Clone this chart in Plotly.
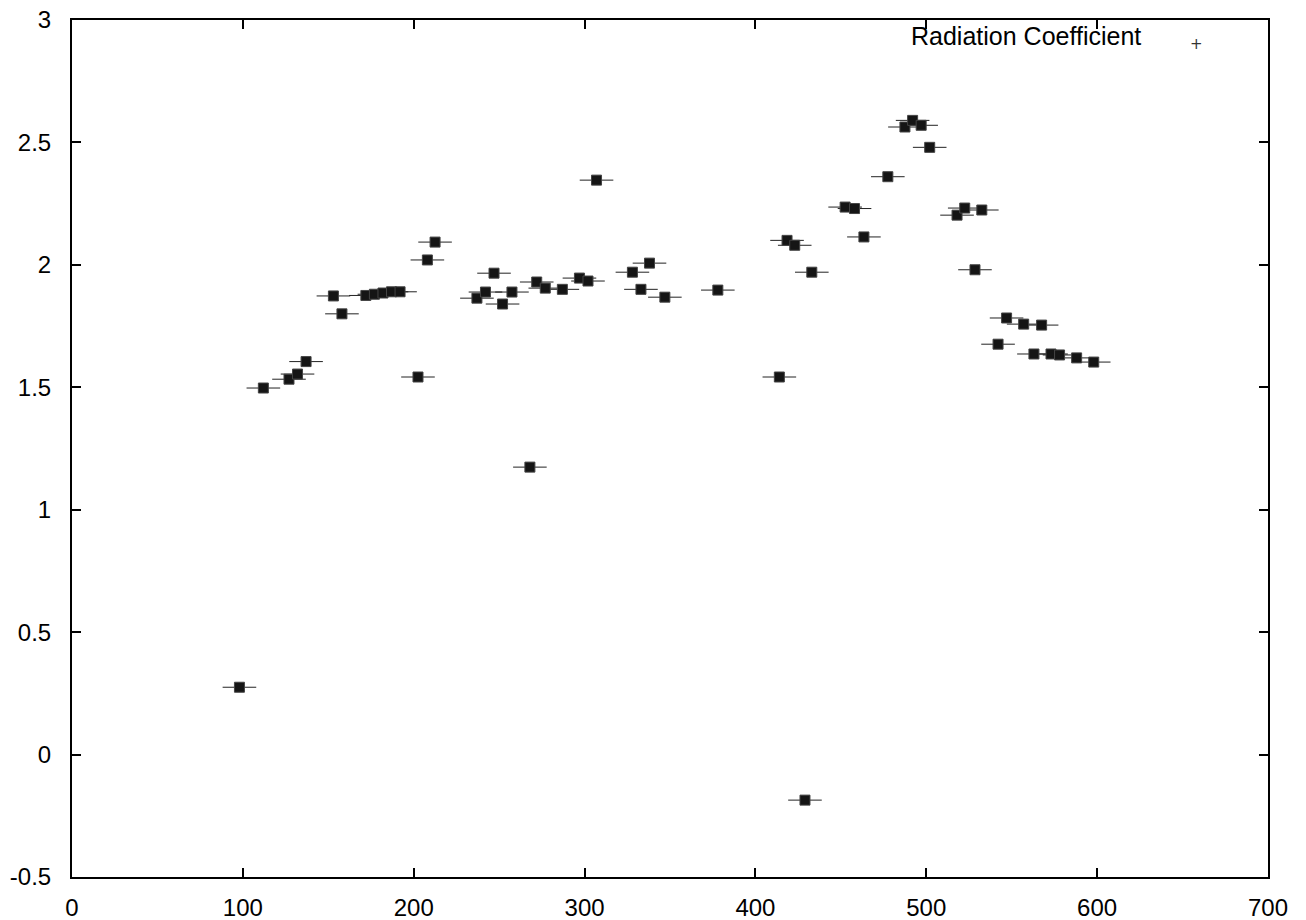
import plotly.graph_objects as go

# Data (x, radiation coefficient)
x_vals = [98, 112, 127, 132, 137, 153, 158, 172, 177, 182, 187, 192,
          202.5, 208, 212.5, 237, 242, 247, 252, 257.5, 268, 272, 277, 287,
          297, 302, 307, 328, 333, 338, 347, 378, 414, 418.5, 423, 429, 433,
          452.5, 458, 463.5, 477.5, 487.5, 492, 497, 502, 518, 522.5, 528.5,
          532.5, 542, 547, 557, 563, 567.5, 573, 578, 588, 598]
y_vals = [0.275, 1.497, 1.533, 1.554, 1.605, 1.873, 1.80, 1.875, 1.88, 1.885, 1.89, 1.89,
          1.542, 2.02, 2.093, 1.864, 1.889, 1.966, 1.84, 1.889, 1.174, 1.93, 1.905, 1.90,
          1.946, 1.934, 2.346, 1.97, 1.90, 2.007, 1.868, 1.897, 1.542, 2.10, 2.08, -0.186, 1.97,
          2.236, 2.23, 2.114, 2.36, 2.563, 2.59, 2.57, 2.48, 2.203, 2.232, 1.98,
          2.224, 1.676, 1.783, 1.758, 1.636, 1.754, 1.636, 1.632, 1.62, 1.603]

series_name = "Radiation Coefficient"
x_ticks = [0, 100, 200, 300, 400, 500, 600, 700]
y_ticks = [-0.5, 0, 0.5, 1, 1.5, 2, 2.5, 3]
y_tick_text = ["-0.5", "0", "0.5", "1", "1.5", "2", "2.5", "3"]

FONT = "Liberation Sans, Arial, Helvetica, sans-serif"

fig = go.Figure()
# horizontal arms of the point clusters
fig.add_trace(go.Scatter(
    x=x_vals, y=y_vals, mode="markers", showlegend=False, hoverinfo="skip",
    marker=dict(symbol="line-ew", size=24, line=dict(color="#222222", width=1)),
))
# dense body of the point clusters
fig.add_trace(go.Scatter(
    x=x_vals, y=y_vals, mode="markers", name=series_name, showlegend=False,
    marker=dict(symbol="square", size=10, color="#151515",
                line=dict(color="#444444", width=1)),
))

axis_common = dict(
    showgrid=False, zeroline=False, showline=True, linecolor="black", linewidth=2,
    mirror="ticks", ticks="inside", ticklen=9, tickwidth=1.5, tickcolor="black",
    tickfont=dict(family=FONT, size=24, color="black"), automargin=False,
)
fig.update_xaxes(range=[0, 700], tickvals=x_ticks, ticklabelstandoff=8, **axis_common)
fig.update_yaxes(range=[-0.5, 3], tickvals=y_ticks, ticktext=y_tick_text,
                 ticklabelstandoff=14, **axis_common)

# legend drawn gnuplot-style: text then key symbol
fig.add_annotation(x=0.8955, y=0.981, xref="paper", yref="paper", xanchor="right",
                   yanchor="middle", text=series_name, showarrow=False,
                   font=dict(family=FONT, size=25, color="black"))
fig.add_annotation(x=0.9406, y=0.972, xref="paper", yref="paper", xanchor="center",
                   yanchor="middle", text="+", showarrow=False,
                   font=dict(family="DejaVu Sans", size=15, color="#333333"))

fig.update_layout(
    width=1306, height=920,
    margin=dict(l=72, r=38, t=20, b=43),
    paper_bgcolor="white", plot_bgcolor="white",
    showlegend=False,
)

fig.write_html("out.html")
